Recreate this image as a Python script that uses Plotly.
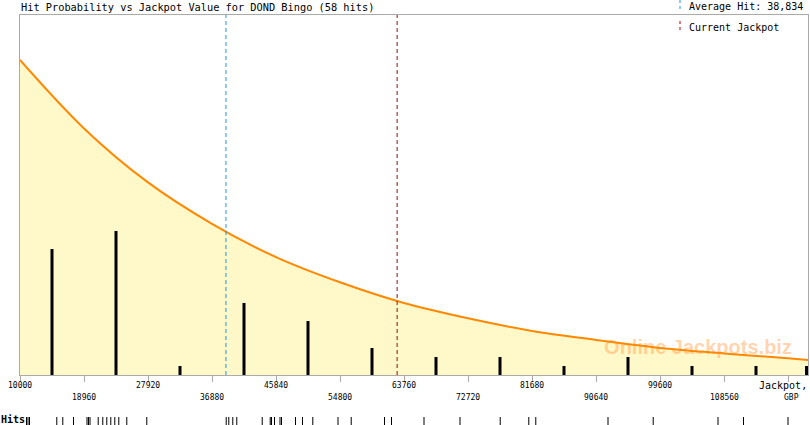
import plotly.graph_objects as go

# ---------------- data ----------------
title_text = "Hit Probability vs Jackpot Value for DOND Bingo (58 hits)"
avg_hit = 38834
current_jackpot = 62800
x_min, x_max = 10000, 120320

tick_values = [10000, 18960, 27920, 36880, 45840, 54800, 63760,
               72720, 81680, 90640, 99600, 108560, 117520]
tick_labels = ["10000", "18960", "27920", "36880", "45840", "54800", "63760",
               "72720", "81680", "90640", "99600", "108560", ""]

# histogram bars (bin centres, hits per bin)
bin_centers = [14480, 23440, 32400, 41360, 50320, 59280, 68240,
               77200, 86160, 95120, 104080, 113040, 120110]
bin_counts = [14, 16, 1, 8, 6, 3, 2, 2, 1, 2, 1, 1, 1]

# expected-hits curve, read at the tick positions
curve_x = [10000, 18960, 27920, 36880, 45840, 54800, 63760,
           72720, 81680, 90640, 99600, 108560, 117520, 120320]
curve_y = [35.0, 27.4, 21.4, 16.8, 13.1, 10.3, 8.0,
           6.3, 4.9, 3.9, 3.0, 2.4, 1.85, 1.67]

# individual hits (rug)
hit_values = [10910, 11120, 11330, 15150, 15990, 17490, 19380, 19590, 19800,
              20950, 21590, 22150, 22710, 23270, 23830, 24950, 27750,
              38870, 39230, 39790, 40350, 43910, 45030, 45210, 45630, 46400,
              46610, 48570, 49550, 50990, 54520, 56370, 61030, 62010, 66560,
              71600, 77230, 81230, 82210, 92320, 98650, 107720, 111290, 117520]

# ---------------- layout helpers ----------------
W, H = 810, 425
ML, MR, MT, MB = 20, 2, 15, 0
PW, PH = W - ML - MR, H - MT - MB


def fx(px):
    return (px - ML) / PW


def fy(py):
    return (H - MB - py) / PH


MONO = "DejaVu Sans Mono"
GRAY = "#AAAAAA"

fig = go.Figure()

# filled area under curve
fig.add_trace(go.Scatter(x=curve_x, y=curve_y, mode="lines", line=dict(width=0, shape="spline"),
                         fill="tozeroy", fillcolor="#FFF8C8", hoverinfo="skip", showlegend=False))
# watermark
fig.add_trace(go.Scatter(x=[104920], y=[2.94], mode="text", text=["Online Jackpots.biz"],
                         textfont=dict(family="Liberation Sans", size=20, color="rgba(255,150,60,0.42)",
                                       weight="bold"),
                         hoverinfo="skip", showlegend=False))
# curve line
fig.add_trace(go.Scatter(x=curve_x, y=curve_y, mode="lines",
                         line=dict(color="#FF8800", width=2, shape="spline"),
                         hoverinfo="skip", showlegend=False))

# histogram bars drawn as thick vertical segments (so they sit above the fill)
bar_x, bar_y = [], []
for c, n in zip(bin_centers, bin_counts):
    bar_x += [c, c, None]
    bar_y += [0, n, None]
fig.add_trace(go.Scatter(x=bar_x, y=bar_y, mode="lines", line=dict(color="black", width=3),
                         hoverinfo="skip", showlegend=False))

# rug of hits
fig.add_trace(go.Scatter(x=hit_values, y=[0.5] * len(hit_values), mode="markers", xaxis="x2", yaxis="y2",
                         marker=dict(symbol="line-ns-open", size=7, color="black",
                                     line=dict(width=1, color="black")),
                         hoverinfo="skip", showlegend=False))

shapes = [
    dict(type="line", xref="x", yref="y domain", x0=avg_hit, x1=avg_hit, y0=0, y1=1,
         line=dict(color="#1E96DC", width=1, dash="4px,3px")),
    dict(type="line", xref="x", yref="y domain", x0=current_jackpot, x1=current_jackpot, y0=0, y1=1,
         line=dict(color="#8B1010", width=1, dash="4px,3px")),
    # legend markers
    dict(type="line", xref="paper", yref="paper", x0=fx(680), x1=fx(680), y0=fy(0), y1=fy(12),
         line=dict(color="#1E96DC", width=1, dash="3px,3px")),
    dict(type="line", xref="paper", yref="paper", x0=fx(680), x1=fx(680), y0=fy(21), y1=fy(33),
         line=dict(color="#B00000", width=1, dash="3px,3px")),
]

annotations = [
    dict(text=title_text, xref="paper", yref="paper", x=fx(19), y=fy(7), xanchor="left", yanchor="middle",
         showarrow=False, font=dict(family=MONO, size=10.3, color="black")),
    dict(text="Average Hit: " + f"{avg_hit:,}", xref="paper", yref="paper", x=fx(687), y=fy(7),
         xanchor="left", yanchor="middle", showarrow=False, font=dict(family=MONO, size=10, color="black")),
    dict(text="Current Jackpot", xref="paper", yref="paper", x=fx(687), y=fy(27),
         xanchor="left", yanchor="middle", showarrow=False, font=dict(family=MONO, size=10, color="black")),
    dict(text="Jackpot,", xref="paper", yref="paper", x=fx(809), y=fy(385.5),
         xanchor="right", yanchor="middle", showarrow=False, font=dict(family=MONO, size=10, color="black")),
    dict(text="GBP", xref="paper", yref="paper", x=fx(791), y=fy(397.5),
         xanchor="center", yanchor="middle", showarrow=False, font=dict(family=MONO, size=8, color="black")),
    dict(text="<b>Hits</b>", xref="paper", yref="paper", x=fx(-1), y=fy(419),
         xanchor="left", yanchor="middle", showarrow=False, font=dict(family=MONO, size=10, color="black")),
]
for i, (tv, tl) in enumerate(zip(tick_values, tick_labels)):
    if not tl:
        continue
    annotations.append(dict(text=tl, xref="x", yref="paper", x=tv, y=fy(385.5 if i % 2 == 0 else 397.5),
                            xanchor="center", yanchor="middle", showarrow=False,
                            font=dict(family=MONO, size=8, color="black")))

fig.update_layout(
    width=W, height=H,
    margin=dict(l=ML, r=MR, t=MT, b=MB, pad=0),
    paper_bgcolor="white", plot_bgcolor="white",
    showlegend=False,
    xaxis=dict(range=[x_min, x_max], showgrid=False, zeroline=False, showline=True, linecolor=GRAY,
               linewidth=1, mirror=True, tickmode="array", tickvals=tick_values, ticks="outside",
               ticklen=6, tickcolor=GRAY, showticklabels=False, fixedrange=True),
    yaxis=dict(range=[0, 40], domain=[fy(375), 1], showgrid=False, zeroline=False, showline=True,
               linecolor=GRAY, linewidth=1, mirror=True, showticklabels=False, ticks="", fixedrange=True),
    xaxis2=dict(range=[x_min, x_max], anchor="y2", matches="x", visible=False),
    yaxis2=dict(range=[0, 1], domain=[0, fy(417)], visible=False),
    shapes=shapes,
    annotations=annotations,
)

fig.write_html("out.html", config={"displayModeBar": False},
               post_script="document.body.style.margin='0px';document.body.style.overflow='hidden';")
